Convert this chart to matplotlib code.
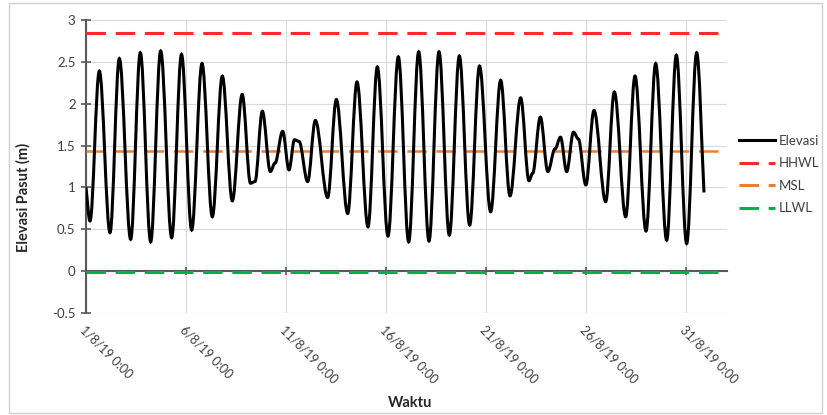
import datetime as dt

import matplotlib
matplotlib.use("Agg")
import matplotlib.dates as mdates
import matplotlib.pyplot as plt
import numpy as np
from matplotlib.lines import Line2D
from matplotlib.patches import PathPatch, Rectangle
from matplotlib.path import Path

plt.rcParams['font.family'] = ['Lato', 'DejaVu Sans']
plt.rcParams['lines.scale_dashes'] = False

##
# DATA: tide turning points, hours after 1/8/19 0:00
hours = [0, 4.8, 16, 28.8, 40, 53.6, 65.2, 77.6, 89.6, 102.8,
         114.6, 126.8, 139.2, 151.6, 163.6, 175.6, 187.4, 197.4, 202.8, 211.6,
         221.2, 226.8, 236, 243.6, 250.2, 255.6, 266, 275.2, 290, 300.4,
         314, 325.2, 338.4, 349.6, 362.4, 374.8, 387.2, 399.2, 411.6, 423.6,
         436, 448, 460.4, 472.2, 485.6, 497.6, 508.8, 521.6, 531.6, 536,
         545.2, 554.2, 562.8, 569.4, 576.8, 585, 590.8, 599.8, 609.6, 623.6,
         634, 647.6, 658.8, 672, 683.6, 696.8, 708.4, 720.8, 732.8, 741.6]
elevasi = [1.00, 0.60, 2.39, 0.46, 2.54, 0.38, 2.61, 0.35, 2.63, 0.40,
           2.59, 0.49, 2.48, 0.65, 2.33, 0.84, 2.11, 1.05, 1.07, 1.91,
           1.19, 1.29, 1.67, 1.21, 1.57, 1.55, 1.07, 1.80, 0.88, 2.05,
           0.69, 2.26, 0.53, 2.44, 0.42, 2.56, 0.35, 2.62, 0.36, 2.62,
           0.43, 2.57, 0.55, 2.45, 0.71, 2.28, 0.90, 2.07, 1.08, 1.17,
           1.84, 1.19, 1.46, 1.60, 1.19, 1.66, 1.58, 1.03, 1.92, 0.83,
           2.14, 0.65, 2.33, 0.48, 2.48, 0.37, 2.58, 0.33, 2.61, 0.94]
hhwl = 2.84
msl = 1.43
llwl = -0.01

start = dt.datetime(2019, 8, 1)
tick_days = [1, 6, 11, 16, 21, 26, 31]

##
fig = plt.figure(figsize=(8.27, 4.15), dpi=100)
ax = fig.add_axes([86 / 827, 1 - 313 / 415, 641 / 827, 293 / 415])

t0 = mdates.date2num(start)
t = t0 + np.array(hours) / 24.0
v = np.array(elevasi)

# smooth line through the turning points (flat tangent at each one)
k = 0.36
verts = [(t[0], v[0])]
codes = [Path.MOVETO]
n = len(t)
for i in range(n - 1):
    d = t[i + 1] - t[i]
    c1 = (t[i] + k * d, v[i])
    c2 = (t[i + 1] - k * d, v[i + 1])
    if i == 0:
        c1 = (t[i] + d / 3, v[i] + (v[i + 1] - v[i]) / 3)
    if i == n - 2:
        c2 = (t[i + 1] - d / 3, v[i + 1] - (v[i + 1] - v[i]) / 3)
    verts += [c1, c2, (t[i + 1], v[i + 1])]
    codes += [Path.CURVE4] * 3
ax.add_patch(PathPatch(Path(verts, codes), fill=False, edgecolor='black',
                       lw=2.2, capstyle='butt', zorder=4))

dash = (14, 7)
ax.axhline(hhwl, color='#ff2a2a', lw=2.2, dashes=dash, zorder=3)
ax.axhline(msl, color='#ed7d31', lw=1.8, dashes=dash, zorder=3)
ax.axhline(llwl, color='#00b050', lw=2.2, dashes=dash, zorder=3)

ax.set_ylim(-0.5, 3)
ax.set_yticks(np.arange(-0.5, 3.01, 0.5))
ax.set_yticklabels(['-0.5', '0', '0.5', '1', '1.5', '2', '2.5', '3'])
ax.set_xlim(t0, t0 + 32.05)
ax.set_xticks([t0 + d - 1 for d in tick_days])
ax.xaxis.set_major_formatter(mdates.DateFormatter('%-d/%-m/%y %-H:%M'))

ax.grid(True, color='#d9d9d9', lw=0.8)
ax.set_axisbelow(True)
for s in ['top', 'right']:
    ax.spines[s].set_visible(False)
ax.spines['left'].set_color('#595959')
ax.spines['left'].set_linewidth(1.5)
ax.spines['bottom'].set_position(('data', 0))
ax.spines['bottom'].set_color('#595959')
ax.spines['bottom'].set_linewidth(1.5)
ax.spines['bottom'].set_zorder(2)

ax.tick_params(axis='y', direction='inout', length=7, width=1.2, color='#595959',
               labelsize=9.5, labelcolor='#404040', pad=4)
ax.tick_params(axis='x', direction='inout', length=6, width=1.2, color='#595959',
               labelsize=9, labelcolor='#404040', pad=35)
for lab in ax.get_xticklabels():
    lab.set_rotation(-45)
    lab.set_ha('left')
    lab.set_va('top')
    lab.set_rotation_mode('anchor')

ax.set_ylabel('Elevasi Pasut (m)', fontsize=10.5, fontweight='bold', color='#262626')
ax.yaxis.set_label_coords(-0.087, 0.396)
fig.text(410 / 827, 1 - 403 / 415, 'Waktu', fontsize=10.5, fontweight='bold',
         color='#262626', ha='center', va='center')

handles = [Line2D([], [], color='black', lw=2.2),
           Line2D([], [], color='#ff2a2a', lw=2.2, dashes=dash),
           Line2D([], [], color='#ed7d31', lw=2.2, dashes=dash),
           Line2D([], [], color='#00b050', lw=2.2, dashes=dash)]
leg = fig.legend(handles, ['Elevasi', 'HHWL', 'MSL', 'LLWL'], loc='center left',
                 bbox_to_anchor=(739 / 827, 1 - 174.5 / 415), frameon=False,
                 fontsize=9.5, handlelength=2.7, handletextpad=0.3,
                 labelspacing=0.8, borderpad=0, borderaxespad=0)
for txt in leg.get_texts():
    txt.set_color('#404040')

fig.patches.append(Rectangle((9 / 827, 2 / 415), 813 / 827, 410 / 415,
                             transform=fig.transFigure, fill=False,
                             edgecolor='#d0d0d0', lw=1.0))

fig.savefig('out.png', dpi=100)
